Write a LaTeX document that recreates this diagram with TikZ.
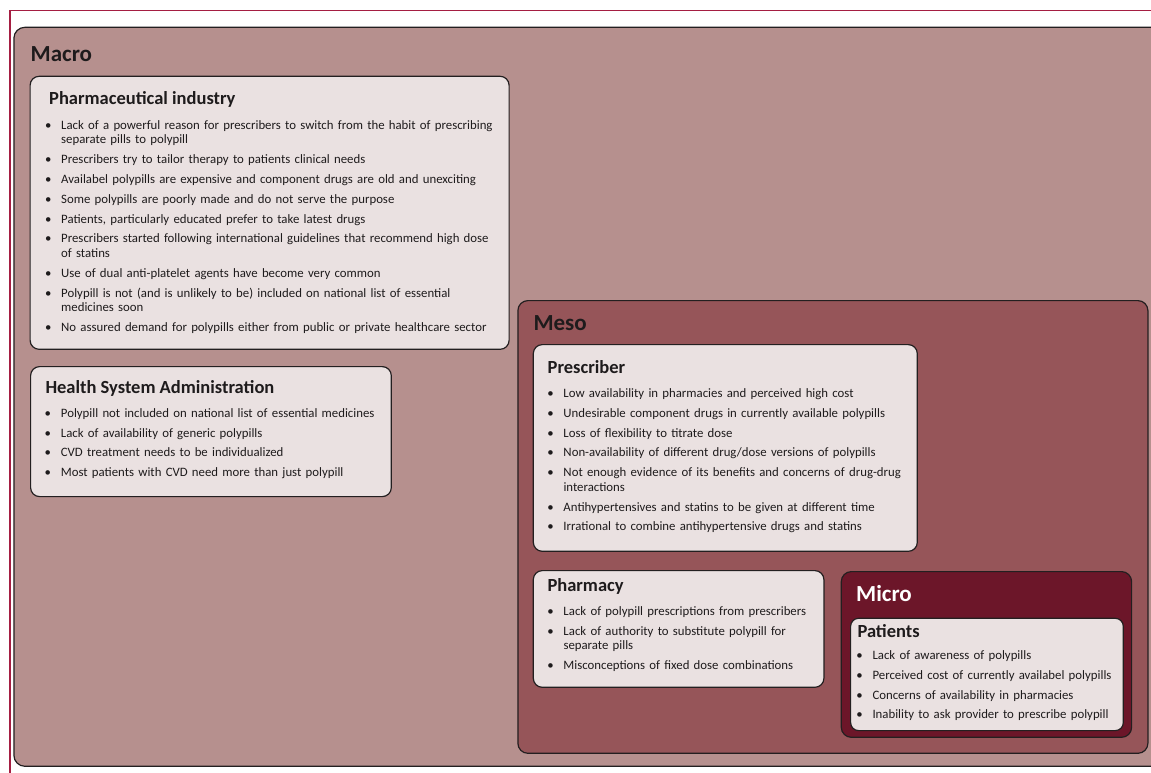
\documentclass[tikz,border=0pt]{standalone}
\usepackage{fontspec}
\setmainfont{Carlito}
\definecolor{frame}{RGB}{165,30,66}
\definecolor{edge}{RGB}{35,31,32}
\definecolor{macrofill}{RGB}{182,144,142}
\definecolor{mesofill}{RGB}{150,85,89}
\definecolor{microfill}{RGB}{108,22,41}
\definecolor{cardfill}{RGB}{234,225,225}
\definecolor{ink}{RGB}{30,27,28}
\newcommand\bul[1]{\noindent\hangindent=13pt\hangafter=1\rule{0pt}{11pt}\makebox[13pt][l]{\makebox[0pt]{\textbullet}}#1\par}
\tikzset{
  panel/.style={draw=edge, line width=1.2pt, anchor=north west, inner sep=0pt},
  levelbox/.style={panel, rounded corners=11pt},
  card/.style={panel, fill=cardfill, rounded corners=9pt},
  leveltitle/.style={anchor=base west, inner sep=0pt, font=\fontsize{23}{26}\selectfont\bfseries, text=ink},
  cardtitle/.style={anchor=base west, inner sep=0pt, font=\fontsize{18.5}{21}\selectfont\bfseries, text=ink},
  itemlist/.style={anchor=north west, inner sep=0pt, text width=480pt, align=left, text=ink,
    font=\fontsize{12.8}{14.5}\selectfont\setlength\parskip{5.3pt}\setlength\parindent{0pt}},
}
\begin{document}
\begin{tikzpicture}[x=1pt,y=-1pt]
\useasboundingbox (0,0) rectangle (1151,773);
\fill[white] (0,0) rectangle (1151,773);
\draw[frame, line width=1.3pt] (1151,10.7) -- (10,10.7) -- (10,773);
% Macro
\node[levelbox, fill=macrofill, minimum width=1160pt, minimum height=739pt] (macro) at (13.3,26.7) {};
\node[leveltitle] (macroT) at (30.5,61.7) {Macro};
\node[card, minimum width=479pt, minimum height=273pt] (pharm) at (29.5,75.7) {};
\node[cardtitle] (pharmT) at (49,105) {Pharmaceutical industry};
\node[itemlist] (pharmL) at (48,118.3) {%
\bul{Lack of a powerful reason for prescribers to switch from the habit of prescribing\newline separate pills to polypill}
\bul{Prescribers try to tailor therapy to patients clinical needs}
\bul{Availabel polypills are expensive and component drugs are old and unexciting}
\bul{Some polypills are poorly made and do not serve the purpose}
\bul{Patients, particularly educated prefer to take latest drugs}
\bul{Prescribers started following international guidelines that recommend high dose\newline of statins}
\bul{Use of dual anti-platelet agents have become very common}
\bul{Polypill is not (and is unlikely to be) included on national list of essential\newline medicines soon}
\bul{No assured demand for polypills either from public or private healthcare sector}};
\node[card, minimum width=360.7pt, minimum height=130pt] (health) at (30,366) {};
\node[cardtitle] (healthT) at (45.3,393.7) {Health System Administration};
\node[itemlist] (healthL) at (47.7,406) {%
\bul{Polypill not included on national list of essential medicines}
\bul{Lack of availability of generic polypills}
\bul{CVD treatment needs to be individualized}
\bul{Most patients with CVD need more than just polypill}};
% Meso
\node[levelbox, fill=mesofill, minimum width=630pt, minimum height=452.7pt, rounded corners=10pt] (meso) at (517.3,300) {};
\node[leveltitle] (mesoT) at (533.3,330.7) {Meso};
\node[card, minimum width=384pt, minimum height=206.7pt] (presc) at (532.7,344) {};
\node[cardtitle] (prescT) at (547.5,373.3) {Prescriber};
\node[itemlist] (prescL) at (550.3,386.3) {%
\bul{Low availability in pharmacies and perceived high cost}
\bul{Undesirable component drugs in currently available polypills}
\bul{Loss of flexibility to titrate dose}
\bul{Non-availability of different drug/dose versions of polypills}
\bul{Not enough evidence of its benefits and concerns of drug-drug\newline interactions}
\bul{Antihypertensives and statins to be given at different time}
\bul{Irrational to combine antihypertensive drugs and statins}};
\node[card, minimum width=290.6pt, minimum height=116.7pt] (pharmacy) at (532.7,570) {};
\node[cardtitle] (pharmacyT) at (547.3,591.7) {Pharmacy};
\node[itemlist] (pharmacyL) at (550.3,604) {%
\bul{Lack of polypill prescriptions from prescribers}
\bul{Lack of authority to substitute polypill for\newline separate pills}
\bul{Misconceptions of fixed dose combinations}};
% Micro
\node[levelbox, fill=microfill, minimum width=290.3pt, minimum height=165.7pt, rounded corners=10pt] (micro) at (840.7,571) {};
\node[leveltitle, text=white] (microT) at (856,601.7) {Micro};
\node[card, minimum width=272.7pt, minimum height=112.3pt, rounded corners=8pt] (patients) at (850,617.7) {};
\node[cardtitle] (patientsT) at (857.3,637.3) {Patients};
\node[itemlist] (patientsL) at (859.3,648.3) {%
\bul{Lack of awareness of polypills}
\bul{Perceived cost of currently availabel polypills}
\bul{Concerns of availability in pharmacies}
\bul{Inability to ask provider to prescribe polypill}};
\end{tikzpicture}
\end{document}
